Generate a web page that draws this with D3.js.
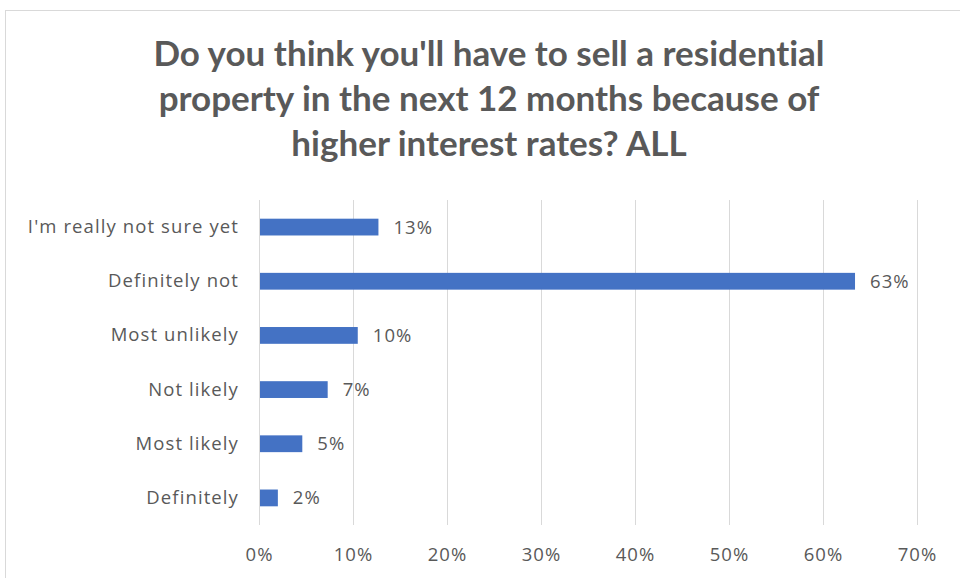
<!DOCTYPE html>
<html><head><meta charset="utf-8">
<script src="https://cdn.jsdelivr.net/npm/d3@7"></script>
<style>body{margin:0;background:#fff}svg{display:block}</style>
</head><body>
<script>
const categories = ["I'm really not sure yet","Definitely not","Most unlikely","Not likely","Most likely","Definitely"];
const values = [0.126, 0.633, 0.104, 0.072, 0.045, 0.019];
const tickValues = [0,0.1,0.2,0.3,0.4,0.5,0.6,0.7];
const titleLines = ["Do you think you'll have to sell a residential","property in the next 12 months because of","higher interest rates? ALL"];

const W=960,H=578;
const svg=d3.select("body").append("svg").attr("width",W).attr("height",H);
svg.append("rect").attr("x",5.5).attr("y",10.5).attr("width",W).attr("height",H).attr("fill","#fff").attr("stroke","#d9d9d9");

const titleFont="Lato, 'Open Sans', sans-serif";
const font="'Open Sans', Lato, sans-serif";
svg.append("g").selectAll("text").data(titleLines).join("text")
  .attr("x",489).attr("y",(d,i)=>66+i*45).attr("text-anchor","middle")
  .attr("font-family",titleFont).attr("font-weight","bold").attr("font-size",35)
  .style("font-variant-ligatures","none").attr("fill","#595959").text(d=>d);

const x=d3.scaleLinear().domain([0,0.7]).range([259,917]);
const y=d3.scaleBand().domain(categories).range([200,525]).paddingInner(0.69).paddingOuter(0.345);

svg.append("g").selectAll("line").data(tickValues).join("line")
  .attr("x1",d=>x(d)+0.5).attr("x2",d=>x(d)+0.5).attr("y1",200).attr("y2",525)
  .attr("stroke","#d9d9d9").attr("stroke-width",1);

svg.append("g").selectAll("rect").data(values).join("rect")
  .attr("x",x(0)+1).attr("y",(d,i)=>y(categories[i])).attr("height",y.bandwidth())
  .attr("width",d=>x(d)-x(0)).attr("fill","#4472c4");

const fmt=d3.format(".0%");
const fs=18.5, ls=1.1;
svg.append("g").selectAll("text").data(values).join("text")
  .attr("x",d=>x(d)+16).attr("y",(d,i)=>y(categories[i])+y.bandwidth()/2).attr("dy","0.35em")
  .attr("font-family",font).attr("font-size",fs).attr("letter-spacing",ls).attr("fill","#595959").text(d=>fmt(d));

const xAxis=d3.axisBottom(x).tickValues(tickValues).tickFormat(d3.format(".0%")).tickSize(0).tickPadding(0);
const gx=svg.append("g").attr("transform","translate(0,561)").call(xAxis);
gx.select(".domain").remove();
gx.selectAll("text").attr("font-family",font).attr("font-size",fs).attr("letter-spacing",ls).attr("fill","#595959").attr("dy","0");

const yAxis=d3.axisLeft(y).tickSize(0).tickPadding(0);
const gy=svg.append("g").attr("transform","translate(239,0)").call(yAxis);
gy.select(".domain").remove();
gy.selectAll("text").attr("font-family",font).attr("font-size",fs).attr("letter-spacing",ls).attr("fill","#595959");
</script>
</body></html>
